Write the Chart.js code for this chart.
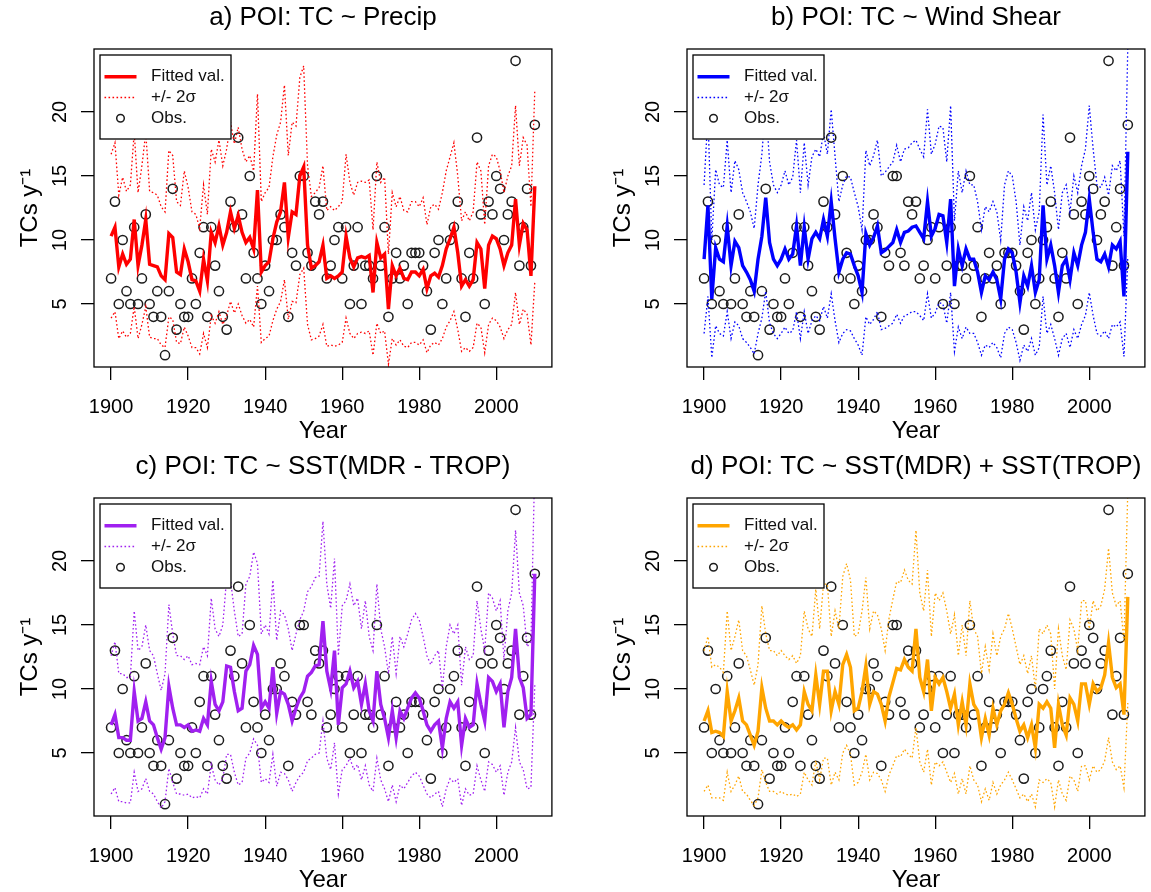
<!DOCTYPE html>
<html><head><meta charset="utf-8">
<script src="https://cdn.jsdelivr.net/npm/chart.js@4.4.1/dist/chart.umd.min.js"></script>
<style>
html,body{margin:0;padding:0;background:#fff;}
body{width:1151px;height:892px;position:relative;overflow:hidden;}
canvas{position:absolute;}
</style></head><body>
<canvas id="ca" width="558" height="443" style="left:0;top:0"></canvas>
<canvas id="cb" width="558" height="443" style="left:593px;top:0"></canvas>
<canvas id="cc" width="558" height="443" style="left:0;top:449px"></canvas>
<canvas id="cd" width="558" height="443" style="left:593px;top:449px"></canvas>
<script>
const years = [1900,1901,1902,1903,1904,1905,1906,1907,1908,1909,1910,1911,1912,1913,1914,1915,1916,1917,1918,1919,
1920,1921,1922,1923,1924,1925,1926,1927,1928,1929,1930,1931,1932,1933,1934,1935,1936,1937,1938,1939,
1940,1941,1942,1943,1944,1945,1946,1947,1948,1949,1950,1951,1952,1953,1954,1955,1956,1957,1958,1959,
1960,1961,1962,1963,1964,1965,1966,1967,1968,1969,1970,1971,1972,1973,1974,1975,1976,1977,1978,1979,
1980,1981,1982,1983,1984,1985,1986,1987,1988,1989,1990,1991,1992,1993,1994,1995,1996,1997,1998,1999,
2000,2001,2002,2003,2004,2005,2006,2007,2008,2009,2010];

const observed = [7,13,5,10,6,5,11,5,7,12, 5,4,6,4,1,6,14,3,5,4, 4,7,5,9,11,4,11,8,6,4, 3,13,11,18,12,7,15,9,7,5,
8,6,10,10,12,11,4,9,8,15, 15,9,8,13,12,13,7,8,10,11, 7,11,5,8,11,5,8,8,7,15, 8,11,4,7,9,7,8,5,9,9,
9,8,6,3,9,10,5,7,10,11, 13,7,4,9,7,18,12,5,13,12, 15,14,10,12,13,24,8,11,14,8, 19];

// a) Precip
const fitPrecip = [10.3,11.0,7.9,8.9,8.1,8.5,11.6,8.0,9.6,11.6, 8.1,8.0,7.9,7.2,6.9,10.5,10.2,7.5,7.3,9.3,
8.3,6.9,6.8,6.0,8.5,6.8,10.6,9.8,11.1,9.6, 10.6,12.2,10.9,11.9,10.6,9.8,10.2,9.3,13.9,7.5,
8.0,8.3,10.1,11.4,12.2,14.5,10.2,12.2,12.0,15.0, 15.7,9.6,7.8,8.0,8.3,9.6,7.0,7.2,7.0,7.2,
7.5,10.3,8.6,7.9,8.6,8.7,8.6,8.8,5.9,9.8, 8.6,8.9,4.6,8.0,7.2,7.8,7.0,6.9,7.5,7.5,
7.2,7.7,6.2,7.2,7.4,7.1,8.0,9.3,10.1,11.0, 9.0,6.4,6.9,6.4,6.9,9.8,9.3,6.2,9.6,10.3,
10.1,9.3,8.0,9.0,9.6,13.2,9.6,11.3,10.8,7.2, 14.2];
const upPrecip = [16.7,17.6,13.5,14.9,13.8,14.3,18.4,13.7,15.8,18.4, 13.8,13.7,13.5,12.6,12.2,17.0,16.6,13.0,12.7,15.4,
14.1,12.2,12.0,10.9,14.3,12.0,17.1,16.1,17.8,15.8, 17.1,19.2,17.5,18.8,17.1,16.1,16.6,15.4,21.4,13.0,
13.7,14.1,16.5,18.2,19.2,22.1,16.6,19.2,18.9,22.7, 23.6,15.8,13.4,13.7,14.1,15.8,12.3,12.6,12.3,12.6,
13.0,16.7,14.5,13.5,14.5,14.6,14.5,14.7,10.8,16.1, 14.5,14.9,8.9,13.7,12.6,13.4,12.3,12.2,13.0,13.0,
12.6,13.3,11.2,12.6,12.8,12.4,13.7,15.4,16.5,17.6, 15.0,11.5,12.2,11.5,12.2,16.1,15.4,11.2,15.8,16.7,
16.5,15.4,13.7,15.0,15.8,20.5,15.8,18.0,17.4,12.6, 21.7];
const loPrecip = [3.9,4.4,2.3,2.9,2.4,2.7,4.8,2.3,3.4,4.8, 2.4,2.3,2.3,1.8,1.6,4.0,3.8,2.0,1.9,3.2,
2.5,1.6,1.6,1.1,2.7,1.6,4.1,3.5,4.4,3.4, 4.1,5.2,4.3,5.0,4.1,3.5,3.8,3.2,6.4,2.0,
2.3,2.5,3.7,4.6,5.2,6.9,3.8,5.2,5.1,7.3, 7.8,3.4,2.2,2.3,2.5,3.4,1.7,1.8,1.7,1.8,
2.0,3.9,2.7,2.3,2.7,2.8,2.7,2.9,1.0,3.5, 2.7,2.9,0.3,2.3,1.8,2.2,1.7,1.6,2.0,2.0,
1.8,2.2,1.2,1.8,2.0,1.8,2.3,3.2,3.7,4.4, 3.0,1.3,1.6,1.3,1.6,3.5,3.2,1.2,3.4,3.9,
3.7,3.2,2.3,3.0,3.4,5.9,3.4,4.6,4.2,1.8, 6.7];

// b) Wind shear
const fitShear = [8.5,12.7,5.4,9.4,8.5,8.3,11.1,8.0,9.9,9.4, 8.0,7.5,6.9,6.0,8.5,10.3,13.3,9.8,8.5,8.0,
8.5,9.3,8.5,8.9,11.1,8.0,11.0,8.5,10.1,10.6, 10.1,11.6,10.3,13.0,10.1,7.5,8.5,9.0,8.9,8.0,
7.2,5.9,10.5,9.6,10.2,11.1,9.0,9.2,9.5,9.8, 10.8,9.8,10.6,10.7,11.0,11.1,10.6,10.1,13.0,10.3,
10.9,12.0,11.9,9.8,13.2,6.4,9.3,8.0,9.3,8.5, 8.5,7.5,5.9,7.2,6.9,7.5,6.9,5.4,8.5,9.3,
9.0,7.5,5.1,7.2,6.4,8.0,5.9,6.9,12.7,8.5, 9.6,8.0,5.9,8.0,8.5,6.9,9.0,8.0,9.6,10.6,
13.2,10.6,8.5,8.3,8.9,7.9,9.6,9.3,9.9,5.6, 16.9];
const upShear = [14.3,19.8,10.0,15.5,14.3,14.1,17.8,13.7,16.2,15.5, 13.7,13.0,12.2,10.9,14.3,16.7,20.6,16.1,14.3,13.7,
14.3,15.4,14.3,14.9,17.8,13.7,17.6,14.3,16.5,17.1, 16.5,18.4,16.7,20.2,16.5,13.0,14.3,15.0,14.9,13.7,
12.6,10.8,17.0,15.8,16.6,17.8,15.0,15.3,15.7,16.1, 17.4,16.1,17.1,17.2,17.6,17.8,17.1,16.5,20.2,16.7,
17.5,18.9,18.8,16.1,20.5,11.5,15.4,13.7,15.4,14.3, 14.3,13.0,10.8,12.6,12.2,13.0,12.2,10.0,14.3,15.4,
15.0,13.0,9.6,12.6,11.5,13.7,10.8,12.2,19.8,14.3, 15.8,13.7,10.8,13.7,14.3,12.2,15.0,13.7,15.8,17.1,
20.5,17.1,14.3,14.1,14.9,13.5,15.8,15.4,16.2,10.3, 25.1];
const loShear = [2.7,5.6,0.8,3.3,2.7,2.5,4.4,2.3,3.6,3.3, 2.3,2.0,1.6,1.1,2.7,3.9,6.0,3.5,2.7,2.3,
2.7,3.2,2.7,2.9,4.4,2.3,4.4,2.7,3.7,4.1, 3.7,4.8,3.9,5.8,3.7,2.0,2.7,3.0,2.9,2.3,
1.8,1.0,4.0,3.4,3.8,4.4,3.0,3.1,3.3,3.5, 4.2,3.5,4.1,4.2,4.4,4.4,4.1,3.7,5.8,3.9,
4.3,5.1,5.0,3.5,5.9,1.3,3.2,2.3,3.2,2.7, 2.7,2.0,1.0,1.8,1.6,2.0,1.6,0.8,2.7,3.2,
3.0,2.0,0.6,1.8,1.3,2.3,1.0,1.6,5.6,2.7, 3.4,2.3,1.0,2.3,2.7,1.6,3.0,2.3,3.4,4.1,
5.9,4.1,2.7,2.5,2.9,2.3,3.4,3.2,3.6,0.9, 8.7];

// c) SST(MDR - TROP)
const fitRelSst = [7.2,8.0,6.2,6.2,6.0,6.0,9.8,7.5,7.7,9.0, 7.5,7.2,6.2,5.3,6.2,10.2,8.5,7.2,7.2,7.0,
7.2,6.7,6.8,6.7,7.7,7.2,10.6,8.8,8.3,9.0, 11.8,11.7,9.8,8.3,8.5,11.4,11.9,13.4,12.7,8.5,
9.0,8.5,11.7,8.1,9.8,9.6,8.8,7.5,8.5,9.3, 9.8,11.0,11.3,11.8,11.9,15.3,11.4,10.0,13.0,7.2,
10.1,10.4,11.4,10.1,10.6,8.8,10.4,8.3,7.5,11.4, 8.8,7.7,6.2,8.3,6.2,8.3,7.7,8.5,9.3,9.7,
9.3,8.3,7.2,6.7,7.2,7.5,5.4,7.7,9.0,8.5, 9.0,5.6,7.7,7.0,7.2,10.4,8.8,7.5,10.9,10.6,
9.8,10.4,7.0,9.8,10.9,14.7,10.9,10.1,7.7,8.0, 19.0];
const upRelSst = [12.6,13.7,11.2,11.2,10.9,10.9,16.1,13.0,13.3,15.0, 13.0,12.6,11.2,9.9,11.2,16.6,14.3,12.6,12.6,12.3,
12.6,11.9,12.0,11.9,13.3,12.6,17.1,14.7,14.1,15.0, 18.7,18.5,16.1,14.1,14.3,18.2,18.8,20.7,19.8,14.3,
15.0,14.3,18.5,13.8,16.1,15.8,14.7,13.0,14.3,15.4, 16.1,17.6,18.0,18.7,18.8,23.1,18.2,16.3,20.2,12.6,
16.5,16.9,18.2,16.5,17.1,14.7,16.9,14.1,13.0,18.2, 14.7,13.3,11.2,14.1,11.2,14.1,13.3,14.3,15.4,15.9,
15.4,14.1,12.6,11.9,12.6,13.0,10.0,13.3,15.0,14.3, 15.0,10.3,13.3,12.3,12.6,16.9,14.7,13.0,17.5,17.1,
16.1,16.9,12.3,16.1,17.5,22.4,17.5,16.5,13.3,13.7, 27.7];
const loRelSst = [1.8,2.3,1.2,1.2,1.1,1.1,3.5,2.0,2.2,3.0, 2.0,1.8,1.2,0.7,1.2,3.8,2.7,1.8,1.8,1.7,
1.8,1.5,1.6,1.5,2.2,1.8,4.1,2.9,2.5,3.0, 4.9,4.9,3.5,2.5,2.7,4.6,5.0,6.1,5.6,2.7,
3.0,2.7,4.9,2.4,3.5,3.4,2.9,2.0,2.7,3.2, 3.5,4.4,4.6,4.9,5.0,7.5,4.6,3.7,5.8,1.8,
3.7,4.0,4.6,3.7,4.1,2.9,4.0,2.5,2.0,4.6, 2.9,2.2,1.2,2.5,1.2,2.5,2.2,2.7,3.2,3.5,
3.2,2.5,1.8,1.5,1.8,2.0,0.8,2.2,3.0,2.7, 3.0,0.9,2.2,1.7,1.8,4.0,2.9,2.0,4.3,4.1,
3.5,4.0,1.7,3.5,4.3,7.0,4.3,3.7,2.2,2.3, 10.3];

// d) SST(MDR) + SST(TROP)
const fitTwoSst = [7.5,8.3,6.6,6.7,6.6,6.3,9.8,7.5,8.3,9.3, 7.5,7.2,6.4,5.6,6.7,10.1,8.5,7.5,7.5,7.2,
7.5,7.2,7.0,7.2,6.8,7.2,9.8,8.8,8.3,11.1, 8.8,11.4,11.4,8.3,9.8,8.8,11.9,12.7,11.7,8.3,
8.5,9.8,11.8,8.8,9.8,9.6,8.8,7.5,9.4,10.5, 11.6,11.5,12.3,11.7,11.4,14.7,10.9,9.8,12.3,8.3,
10.9,10.4,10.9,9.8,8.5,9.6,7.2,9.0,7.2,10.4, 8.8,8.3,6.2,7.7,6.4,8.5,7.2,8.3,8.8,9.7,
8.8,7.7,6.7,7.2,6.2,7.2,5.4,8.8,8.5,9.0, 8.5,5.4,8.8,7.2,6.4,9.3,8.8,7.5,10.4,10.4,
8.8,10.4,9.8,10.1,11.1,13.6,10.9,10.1,10.4,8.0, 17.2];
const upTwoSst = [13.0,14.1,11.7,11.9,11.7,11.3,16.1,13.0,14.1,15.4, 13.0,12.6,11.5,10.3,11.9,16.5,14.3,13.0,13.0,12.6,
13.0,12.6,12.3,12.6,12.0,12.6,16.1,14.7,14.1,17.8, 14.7,18.2,18.2,14.1,16.1,14.7,18.8,19.8,18.5,14.1,
14.3,16.1,18.7,14.7,16.1,15.8,14.7,13.0,15.5,17.0, 18.4,18.3,19.3,18.5,18.2,22.4,17.5,16.1,19.3,14.1,
17.5,16.9,17.5,16.1,14.3,15.8,12.6,15.0,12.6,16.9, 14.7,14.1,11.2,13.3,11.5,14.3,12.6,14.1,14.7,15.9,
14.7,13.3,11.9,12.6,11.2,12.6,10.0,14.7,14.3,15.0, 14.3,10.0,14.7,12.6,11.5,15.4,14.7,13.0,16.9,16.9,
14.7,16.9,16.1,16.5,17.8,21.0,17.5,16.5,16.9,13.7, 25.5];
const loTwoSst = [2.0,2.5,1.5,1.5,1.5,1.3,3.5,2.0,2.5,3.2, 2.0,1.8,1.3,0.9,1.5,3.7,2.7,2.0,2.0,1.8,
2.0,1.8,1.7,1.8,1.6,1.8,3.5,2.9,2.5,4.4, 2.9,4.6,4.6,2.5,3.5,2.9,5.0,5.6,4.9,2.5,
2.7,3.5,4.9,2.9,3.5,3.4,2.9,2.0,3.3,4.0, 4.8,4.7,5.3,4.9,4.6,7.0,4.3,3.5,5.3,2.5,
4.3,4.0,4.3,3.5,2.7,3.4,1.8,3.0,1.8,4.0, 2.9,2.5,1.2,2.2,1.3,2.7,1.8,2.5,2.9,3.5,
2.9,2.2,1.5,1.8,1.2,1.8,0.8,2.9,2.7,3.0, 2.7,0.8,2.9,1.8,1.3,3.2,2.9,2.0,4.0,4.0,
2.9,4.0,3.5,3.7,4.4,6.2,4.3,3.7,4.0,2.3, 8.9];

const xTicks = [1900,1920,1940,1960,1980,2000];
const yTicks = [5,10,15,20];
const legendLabels = ['Fitted val.','+/- 2\u03c3','Obs.'];

Chart.defaults.font.family = "'Liberation Sans', Arial, Helvetica, sans-serif";
Chart.defaults.color = '#000';

function pts(arr){ return years.map((yr,i)=>({x:yr, y:arr[i]})); }

const rPlot = {
  id:'rPlot',
  afterDatasetsDraw(chart){
    const ctx = chart.ctx, a = chart.chartArea;
    const ds = chart.data.datasets;
    ctx.save();
    const lx = a.left + 6, ly = a.top + 6, lw = 131, lh = 84;
    ctx.fillStyle = '#fff';
    ctx.fillRect(lx, ly, lw, lh);
    ctx.strokeStyle = '#000'; ctx.lineWidth = 1.3; ctx.setLineDash([]);
    ctx.strokeRect(lx, ly, lw, lh);
    const rows = [ly + 21.7, ly + 42.5, ly + 63.3];
    ctx.strokeStyle = ds[0].borderColor; ctx.lineWidth = ds[0].borderWidth;
    ctx.beginPath(); ctx.moveTo(lx + 4.5, rows[0]); ctx.lineTo(lx + 36.5, rows[0]); ctx.stroke();
    ctx.strokeStyle = ds[1].borderColor; ctx.lineWidth = ds[1].borderWidth; ctx.setLineDash(ds[1].borderDash);
    ctx.beginPath(); ctx.moveTo(lx + 4.5, rows[1]); ctx.lineTo(lx + 36.5, rows[1]); ctx.stroke();
    ctx.setLineDash([]);
    ctx.strokeStyle = ds[3].pointBorderColor; ctx.lineWidth = ds[3].pointBorderWidth;
    ctx.beginPath(); ctx.arc(lx + 20.5, rows[2], 3.8, 0, Math.PI*2); ctx.stroke();
    ctx.fillStyle = '#111';
    ctx.font = "17px 'Liberation Sans', Arial, sans-serif";
    ctx.textBaseline = 'middle'; ctx.textAlign = 'left';
    legendLabels.forEach((t,i)=>ctx.fillText(t, lx + 51, rows[i]));
    ctx.strokeStyle = '#000'; ctx.lineWidth = 1.3;
    ctx.strokeRect(a.left, a.top, a.right - a.left, a.bottom - a.top);
    ctx.restore();
  }
};

function makePanel(id, title, color, fit, up, lo){
  const axisGrid = {drawOnChartArea:false, drawTicks:true, tickLength:13, color:'#000', lineWidth:1.3};
  new Chart(document.getElementById(id), {
    type:'line',
    data:{datasets:[
      {label:legendLabels[0], data:pts(fit), borderColor:color, backgroundColor:color, borderWidth:3.4, pointRadius:0, tension:0, order:1},
      {label:legendLabels[1], data:pts(up), borderColor:color, borderWidth:1.3, borderDash:[1.6,2.4], pointRadius:0, tension:0, order:2},
      {label:legendLabels[1], data:pts(lo), borderColor:color, borderWidth:1.3, borderDash:[1.6,2.4], pointRadius:0, tension:0, order:2},
      {label:legendLabels[2], data:pts(observed), showLine:false, pointStyle:'circle', pointRadius:4.6,
       borderColor:'#1c1c1c', pointBorderColor:'#1c1c1c', backgroundColor:'rgba(0,0,0,0)', pointBackgroundColor:'rgba(0,0,0,0)', pointBorderWidth:1.5, order:3}
    ]},
    options:{
      responsive:false, animation:false, devicePixelRatio:1,
      layout:{padding:{left:0, right:1, top:0, bottom:0}},
      plugins:{
        legend:{display:false}, tooltip:{enabled:false},
        title:{display:true, fullSize:false, text:title, color:'#000', font:{size:26, weight:'normal'}, padding:{top:2.4, bottom:15.4}}
      },
      scales:{
        x:{type:'linear', min:1895.56, max:2014.44,
          afterBuildTicks:s=>{ s.ticks = xTicks.map(v=>({value:v})); },
          afterFit:s=>{ s.height = 76; },
          grid:axisGrid, border:{display:false},
          ticks:{font:{size:20}, color:'#000', padding:15, maxRotation:0, minRotation:0, autoSkip:false, callback:v=>String(v)},
          title:{display:true, text:'Year', color:'#000', font:{size:24, lineHeight:1}, padding:{top:0, bottom:0}}
        },
        y:{type:'linear', min:0.08, max:24.92,
          afterBuildTicks:s=>{ s.ticks = yTicks.map(v=>({value:v})); },
          afterFit:s=>{ s.width = 94; },
          grid:axisGrid, border:{display:false},
          ticks:{font:{size:20}, color:'#000', padding:9, minRotation:90, maxRotation:90, crossAlign:'center', autoSkip:false, callback:v=>String(v)},
          title:{display:true, text:'TCs y\u207B\u00B9', color:'#000', font:{size:24, lineHeight:1}, padding:{top:18, bottom:0}}
        }
      }
    },
    plugins:[rPlot]
  });
}

makePanel('ca', 'a) POI: TC ~ Precip', '#FF0000', fitPrecip, upPrecip, loPrecip);
makePanel('cb', 'b) POI: TC ~ Wind Shear', '#0000FF', fitShear, upShear, loShear);
makePanel('cc', 'c) POI: TC ~ SST(MDR - TROP)', '#A020F0', fitRelSst, upRelSst, loRelSst);
makePanel('cd', 'd) POI: TC ~ SST(MDR) + SST(TROP)', '#FFA500', fitTwoSst, upTwoSst, loTwoSst);
</script>
</body></html>
